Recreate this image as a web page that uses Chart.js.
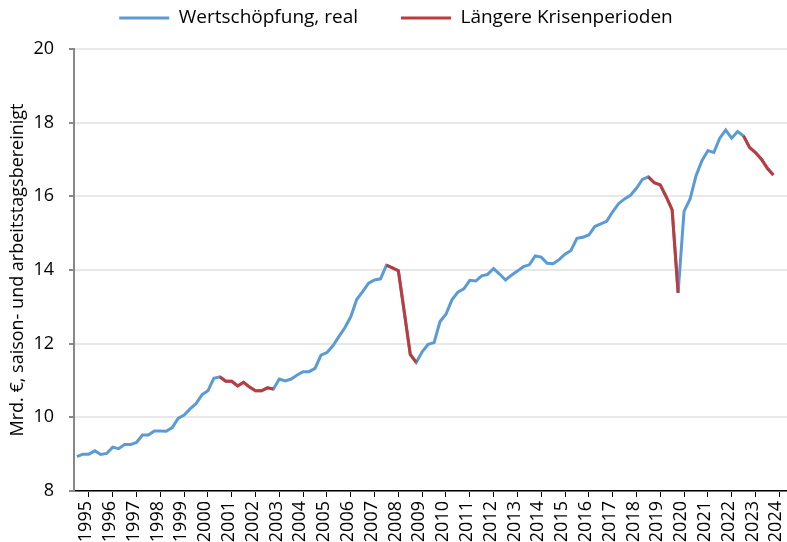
<!DOCTYPE html>
<html>
<head>
<meta charset="utf-8">
<script src="https://cdn.jsdelivr.net/npm/chart.js@4/dist/chart.umd.min.js"></script>
<style>
  html, body { margin: 0; padding: 0; background: #fff; overflow: hidden; }
  canvas { display: block; }
</style>
</head>
<body>
<canvas id="myChart" width="793" height="542"></canvas>
<script>
/* Data: real value added, quarterly 1995Q1 - 2024Q2 */
const years = [1995, 1996, 1997, 1998, 1999, 2000, 2001, 2002, 2003, 2004,
               2005, 2006, 2007, 2008, 2009, 2010, 2011, 2012, 2013, 2014,
               2015, 2016, 2017, 2018, 2019, 2020, 2021, 2022, 2023, 2024];
const quarters = ['Q1', 'Q2', 'Q3', 'Q4'];

const wertschoepfung = [
  8.93, 9.00, 9.00, 9.09,     // 1995
  8.99, 9.02, 9.19, 9.15,     // 1996
  9.26, 9.26, 9.32, 9.52,     // 1997
  9.52, 9.63, 9.63, 9.62,     // 1998
  9.72, 9.97, 10.06, 10.23,   // 1999
  10.37, 10.61, 10.72, 11.06, // 2000
  11.10, 10.98, 10.98, 10.85, // 2001
  10.95, 10.82, 10.72, 10.72, // 2002
  10.80, 10.77, 11.04, 10.99, // 2003
  11.04, 11.15, 11.24, 11.24, // 2004
  11.33, 11.69, 11.76, 11.94, // 2005
  12.19, 12.43, 12.73, 13.20, // 2006
  13.41, 13.64, 13.73, 13.76, // 2007
  14.13, 14.06, 13.98, 12.85, // 2008
  11.71, 11.49, 11.78, 11.98, // 2009
  12.03, 12.60, 12.80, 13.19, // 2010
  13.40, 13.49, 13.72, 13.70, // 2011
  13.84, 13.88, 14.04, 13.89, // 2012
  13.73, 13.86, 13.97, 14.09, // 2013
  14.14, 14.38, 14.35, 14.18, // 2014
  14.17, 14.28, 14.43, 14.53, // 2015
  14.86, 14.89, 14.95, 15.18, // 2016
  15.25, 15.32, 15.58, 15.80, // 2017
  15.93, 16.03, 16.22, 16.46, // 2018
  16.53, 16.37, 16.31, 15.99, // 2019
  15.63, 13.38, 15.59, 15.92, // 2020
  16.55, 16.97, 17.24, 17.19, // 2021
  17.58, 17.80, 17.58, 17.76, // 2022
  17.64, 17.33, 17.19, 17.01, // 2023
  16.76, 16.58                // 2024
];

// longer crisis periods (first and last quarter)
const crisisFrom = ['2001Q1', '2008Q1', '2019Q1', '2023Q1'];
const crisisTo   = ['2003Q2', '2009Q2', '2020Q2', '2024Q2'];

const yTicks = [8, 10, 12, 14, 16, 18, 20];

/* build labels and the crisis series */
const labels = [];
years.forEach(function(y) {
  quarters.forEach(function(q) { labels.push(y + q); });
});

const krisen = wertschoepfung.map(function(v, i) {
  for (let k = 0; k < crisisFrom.length; k++) {
    if (i >= labels.indexOf(crisisFrom[k]) && i <= labels.indexOf(crisisTo[k])) return v;
  }
  return null;
});

const blue = '#5B9BD5';
const red = '#BF3B3B';
const font = "'Open Sans', sans-serif";
const legendSize = 19;
const legendPad = 43;

// legend sits higher than its padding would put it
const legendPlace = {
  id: 'legendPlace',
  beforeInit(chart) {
    const fit = chart.legend.fit;
    chart.legend.fit = function() {
      fit.call(this);
      this.height = 49;
    };
  },
  afterLayout(chart) {
    chart.legend.top = 18 - legendPad - legendSize / 2;
  }
};

var ctx = document.getElementById('myChart').getContext('2d');
var chart = new Chart(ctx, {
  type: 'line',
  data: {
    labels: labels,
    datasets: [{
      label: 'Wertschöpfung, real',
      data: wertschoepfung,
      borderColor: blue,
      backgroundColor: blue,
      borderWidth: 3,
      pointBorderWidth: 3,
      order: 1
    }, {
      label: 'Längere Krisenperioden',
      data: krisen,
      borderColor: red,
      backgroundColor: red,
      borderWidth: 3,
      pointBorderWidth: 3,
      spanGaps: false,
      order: 0
    }]
  },
  options: {
    responsive: false,
    animation: false,
    devicePixelRatio: 1,
    layout: { padding: { left: 0, right: 1, top: 0, bottom: 0 } },
    elements: {
      line: { tension: 0 },
      point: { radius: 0, hoverRadius: 0 }
    },
    plugins: {
      tooltip: { enabled: false },
      legend: {
        position: 'top',
        align: 'center',
        labels: {
          usePointStyle: true,
          pointStyle: 'line',
          pointStyleWidth: 50,
          padding: legendPad,
          color: '#000',
          font: { family: font, size: legendSize },
          sort: function(a, b) { return a.datasetIndex - b.datasetIndex; }
        }
      }
    },
    scales: {
      x: {
        type: 'category',
        offset: true,
        grid: {
          offset: true,
          drawOnChartArea: false,
          tickLength: 6,
          tickColor: '#000',
          lineWidth: 1
        },
        border: { color: '#000', width: 1.5 },
        ticks: {
          autoSkip: false,
          minRotation: 90,
          maxRotation: 90,
          labelOffset: 9,
          padding: 4,
          color: '#000',
          font: { family: font, size: 18 },
          callback: function(v, i) {
            return i % 4 === 0 ? String(years[i / 4]) : null;
          }
        },
        afterFit: function(scale) { scale.height = 51; }
      },
      y: {
        min: yTicks[0],
        max: yTicks[yTicks.length - 1],
        afterBuildTicks: function(scale) {
          scale.ticks = yTicks.map(function(v) { return { value: v }; });
        },
        grid: {
          color: '#e8e8e8',
          lineWidth: 2,
          tickLength: 5,
          tickColor: '#888'
        },
        border: { color: '#888', width: 2 },
        ticks: {
          padding: 15,
          color: '#000',
          font: { family: font, size: 18 }
        },
        title: {
          display: true,
          text: 'Mrd. €, saison- und arbeitstagsbereinigt',
          color: '#000',
          font: { family: font, size: 18 },
          padding: { top: 7, bottom: 0 }
        },
        afterFit: function(scale) { scale.width = 74; }
      }
    }
  },
  plugins: [legendPlace]
});
</script>
</body>
</html>
